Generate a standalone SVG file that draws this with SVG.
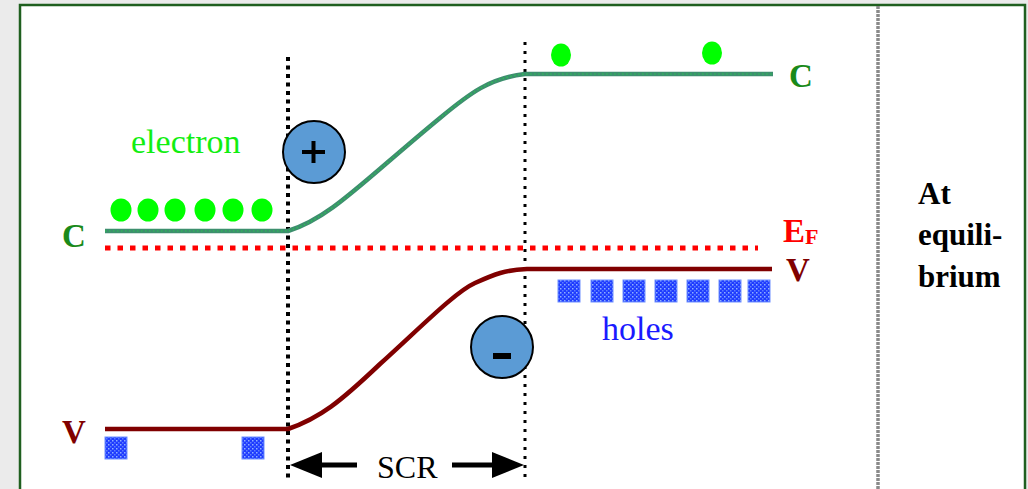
<svg xmlns="http://www.w3.org/2000/svg" width="1028" height="489" viewBox="0 0 1028 489">
  <defs>
    <pattern id="holePat" width="4" height="4" patternUnits="userSpaceOnUse">
      <rect width="4" height="4" fill="#1f3cff"/>
      <rect x="0" y="0" width="1.5" height="1.5" fill="#8fb0ff"/>
      <rect x="2" y="2" width="1.5" height="1.5" fill="#5f80ff"/>
    </pattern>
    <style>
      text { font-family: "Liberation Serif", "Times New Roman", serif; }
      .hole { fill: url(#holePat); stroke: #6f8fff; stroke-width: 1; }
      .electron { fill: #00ff00; }
      .ion { fill: #5b9bd5; stroke: #000; stroke-width: 2; }
      .junction { fill: none; stroke: #000; stroke-linecap: butt; }
    </style>
  </defs>

  <rect x="0" y="0" width="1028" height="489" fill="#ebebeb"/>
  <rect x="20" y="5" width="1005" height="490" fill="#ffffff" stroke="#1f5f1f" stroke-width="2.5"/>

  <!-- separator -->
  <line x1="878" y1="6" x2="878" y2="489" stroke="#8a8a8a" stroke-width="3.5" stroke-dasharray="3 1"/>

  <g id="connectors">
    <!-- junction boundaries -->
    <line class="junction" x1="288" y1="57" x2="288" y2="478" stroke-width="4" stroke-dasharray="4 4.5"/>
    <line class="junction" x1="525" y1="42" x2="525" y2="478" stroke-width="3" stroke-dasharray="3 6"/>

    <!-- Fermi level -->
    <line x1="105" y1="248" x2="758" y2="248" stroke="#ff0000" stroke-width="5" stroke-dasharray="5.5 7"/>

    <!-- conduction band -->
    <path d="M105,231 L288,231 C330,218 360,184 440,118 C470,93 490,78 525,74 L773,74" fill="none" stroke="#3d8f6e" stroke-width="4.5"/>
    <path d="M105,231 L288,231 C330,218 360,184 440,118 C470,93 490,78 525,74 L773,74" fill="none" stroke="#22dd44" stroke-width="1.2" stroke-dasharray="1.5 2.5" opacity="0.7"/>

    <!-- valence band -->
    <path d="M105,429 L288,429 C320,418 340,402 380,364 C420,328 455,292 475,283 C495,274 505,270 527,269 L772,269" fill="none" stroke="#800000" stroke-width="4.5"/>

    <!-- SCR arrows -->
    <line x1="318" y1="465" x2="357" y2="465" stroke="#000" stroke-width="5"/>
    <polygon points="290,465 322,452 322,478" fill="#000"/>
    <line x1="452" y1="465" x2="495" y2="465" stroke="#000" stroke-width="5"/>
    <polygon points="524,465 492,452 492,478" fill="#000"/>
  </g>

  <g id="electrons-left">
    <ellipse class="electron" cx="121" cy="210" rx="10.5" ry="11.5"/>
    <ellipse class="electron" cx="148" cy="210" rx="10.5" ry="11.5"/>
    <ellipse class="electron" cx="175" cy="210" rx="10.5" ry="11.5"/>
    <ellipse class="electron" cx="205" cy="210" rx="10.5" ry="11.5"/>
    <ellipse class="electron" cx="233" cy="210" rx="10.5" ry="11.5"/>
    <ellipse class="electron" cx="262" cy="210" rx="10.5" ry="11.5"/>
  </g>
  <g id="electrons-right">
    <ellipse class="electron" cx="561" cy="55" rx="10" ry="11.5"/>
    <ellipse class="electron" cx="712" cy="53" rx="10" ry="11.5"/>
  </g>

  <g id="holes-left">
    <rect class="hole" x="105" y="437" width="22" height="22"/>
    <rect class="hole" x="242" y="437" width="22" height="22"/>
  </g>
  <g id="holes-right">
    <rect class="hole" x="558" y="280" width="22" height="22"/>
    <rect class="hole" x="591" y="280" width="22" height="22"/>
    <rect class="hole" x="623" y="280" width="22" height="22"/>
    <rect class="hole" x="655" y="280" width="22" height="22"/>
    <rect class="hole" x="687" y="280" width="22" height="22"/>
    <rect class="hole" x="719" y="280" width="22" height="22"/>
    <rect class="hole" x="748" y="280" width="22" height="22"/>
  </g>

  <g id="ion-plus">
    <circle class="ion" cx="314" cy="152" r="31"/>
    <line x1="302" y1="152" x2="325" y2="152" stroke="#000" stroke-width="4"/>
    <line x1="313.5" y1="141" x2="313.5" y2="163" stroke="#000" stroke-width="4"/>
  </g>
  <g id="ion-minus">
    <circle class="ion" cx="502" cy="347" r="31"/>
    <rect x="493" y="353" width="18" height="6" fill="#000"/>
  </g>

  <g id="labels">
    <text x="131" y="153" font-size="34" fill="#11ee11">electron</text>
    <text x="602" y="340" font-size="34" fill="#1a1aff">holes</text>
    <text x="62" y="247" font-size="33" font-weight="bold" fill="#1a8a1a">C</text>
    <text x="62" y="443" font-size="33" font-weight="bold" fill="#800000">V</text>
    <text x="789" y="87" font-size="33" font-weight="bold" fill="#1a8a1a">C</text>
    <text x="783" y="242" font-size="33" font-weight="bold" fill="#ff0000">E<tspan font-size="22" dy="2">F</tspan></text>
    <text x="786" y="281" font-size="33" font-weight="bold" fill="#800000">V</text>
    <text x="377" y="478" font-size="32" fill="#000">SCR</text>
    <text x="918" y="204" font-size="31" font-weight="bold" fill="#000">At</text>
    <text x="918" y="245" font-size="31" font-weight="bold" fill="#000">equili-</text>
    <text x="918" y="287" font-size="31" font-weight="bold" fill="#000">brium</text>
  </g>
</svg>
